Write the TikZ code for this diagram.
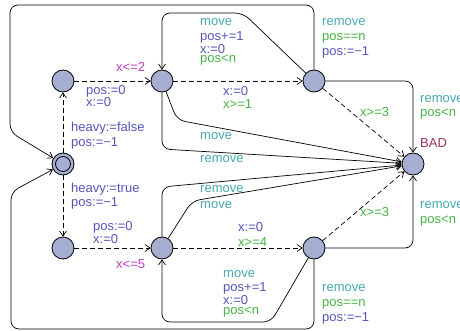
\documentclass[tikz,border=0pt]{standalone}
\usepackage{fontspec}
\setmainfont{Liberation Sans}
\usetikzlibrary{arrows.meta}
\definecolor{nfill}{RGB}{166,174,210}
\definecolor{cteal}{RGB}{70,168,176}
\definecolor{cblue}{RGB}{85,85,185}
\definecolor{cgreen}{RGB}{70,180,70}
\definecolor{cmag}{RGB}{190,64,190}
\definecolor{cbad}{RGB}{160,48,90}
\begin{document}
\begin{tikzpicture}[x=1pt,y=-1pt,
  loc/.style={circle,draw,line width=0.8pt,fill=nfill,minimum size=22pt,inner sep=0pt},
  lbl/.style={anchor=base west,inner sep=0pt,font=\fontsize{13}{15}\selectfont},
  sync/.style={lbl,text=cteal},
  upd/.style={lbl,text=cblue},
  grd/.style={lbl,text=cgreen},
  inv/.style={lbl,text=cmag},
  tr/.style={draw,line width=0.7pt,-{Straight Barb[length=5pt,width=7pt]},rounded corners=8pt},
  dtr/.style={tr,dash pattern=on 5pt off 3pt}]
\useasboundingbox (0,0) rectangle (460,331);
% locations
\node[loc] (A) at (63,81) {};
\node[loc] (B) at (162,81) {};
\node[loc] (C) at (314,81) {};
\node[loc] (I) at (63,164) {};
\node[loc] (D) at (63,248) {};
\node[loc] (E) at (162,248) {};
\node[loc] (F) at (314,248) {};
\node[loc] (BAD) at (413,164) {};
\draw[line width=0.8pt] (I.center) circle (7.5pt);
% dashed transitions
\draw[dtr] (I) -- (A);
\draw[dtr] (I) -- (D);
\draw[dtr] (A) -- (B);
\draw[dtr] (B) -- (C);
\draw[dtr] (C) -- (BAD);
\draw[dtr] (D) -- (E);
\draw[dtr] (E) -- (F);
\draw[dtr] (F) -- (BAD);
% solid transitions
\draw[tr] (C) -- (243,13) -- (162,13) -- (B);
\draw[tr] (C) -- (314,5) -- (10,5) -- (10,132) -- (I);
\draw[tr] (C) -- (413,81) -- (BAD);
\draw[tr] (B) -- (177,120) -- (BAD);
\draw[tr] (B) -- (162,149) -- (BAD);
\draw[tr] (E) -- (162,187) -- (BAD);
\draw[tr] (E) -- (192,201) -- (BAD);
\draw[tr] (F) -- (271,322) -- (162,322) -- (E);
\draw[tr] (F) -- (314,329) -- (11,329) -- (11,192) -- (I);
\draw[tr] (F) -- (413,248) -- (BAD);
% labels
\node[sync] (t1) at (322,26) {remove};
\node[grd] (t2) at (322,41) {pos==n};
\node[upd] (t3) at (322,56) {pos:=−1};
\node[sync] (t4) at (200,26) {move};
\node[upd] (t5) at (200,41) {pos+=1};
\node[upd] (t6) at (200,54) {x:=0};
\node[grd] (t7) at (200,63) {pos<n};
\node[sync] (t8) at (420,103) {remove};
\node[grd] (t9) at (420,117) {pos<n};
\node[lbl,text=cbad] (t10) at (420,148) {BAD};
\node[inv] (t11) at (116,72) {x<=2};
\node[upd] (t12) at (86,95) {pos:=0};
\node[upd] (t13) at (86,107) {x:=0};
\node[upd] (t14) at (223,96) {x:=0};
\node[grd] (t15) at (223,109) {x>=1};
\node[grd] (t16) at (360,117) {x>=3};
\node[upd] (t17) at (71,132) {heavy:=false};
\node[upd] (t18) at (71,147) {pos:=−1};
\node[upd] (t19) at (71,193) {heavy:=true};
\node[upd] (t20) at (71,206) {pos:=−1};
\node[upd] (t21) at (93,230) {pos:=0};
\node[upd] (t22) at (93,243) {x:=0};
\node[inv] (t23) at (116,268) {x<=5};
\node[upd] (t24) at (238,231) {x:=0};
\node[grd] (t25) at (238,246) {x>=4};
\node[grd] (t26) at (360,216) {x>=3};
\node[sync] (t27) at (420,208) {remove};
\node[grd] (t28) at (420,223) {pos<n};
\node[sync] (t29) at (200,140) {move};
\node[sync] (t30) at (200,163) {remove};
\node[sync] (t31) at (200,193) {remove};
\node[sync] (t32) at (200,208) {move};
\node[sync] (t33) at (223,277) {move};
\node[upd] (t34) at (223,291) {pos+=1};
\node[upd] (t35) at (223,304) {x:=0};
\node[grd] (t36) at (223,314) {pos<n};
\node[sync] (t37) at (322,291) {remove};
\node[grd] (t38) at (322,306) {pos==n};
\node[upd] (t39) at (322,321) {pos:=−1};
\end{tikzpicture}
\end{document}
